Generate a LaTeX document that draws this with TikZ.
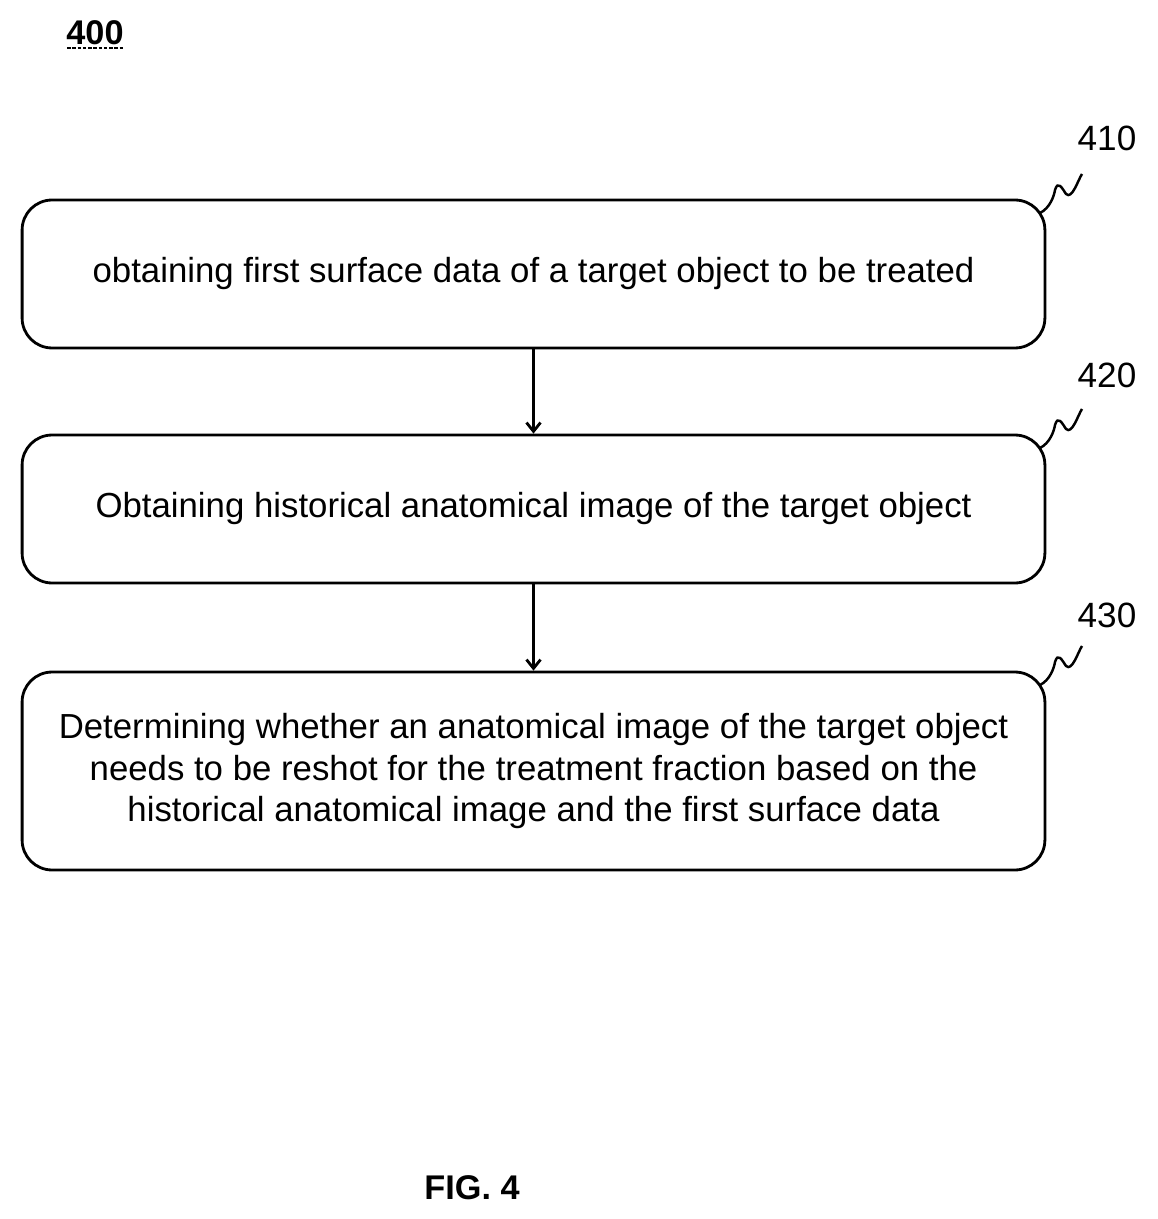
\documentclass[tikz,border=0pt]{standalone}
\usepackage{fontspec}
\setmainfont{Liberation Sans}
\usetikzlibrary{arrows.meta}
\begin{document}
\begin{tikzpicture}[x=0.02cm,y=-0.02cm,
  box/.style={draw,line width=1.6pt,rounded corners=0.6cm,minimum width=20.46cm,align=center,font=\fontsize{19.8}{23.8}\selectfont},
  lbl/.style={font=\fontsize{20}{24}\selectfont},
  arr/.style={line width=1.6pt,-{Straight Barb[length=5pt,width=8pt]}},
  sq/.style={line width=1.4pt}]
\useasboundingbox (0,0) rectangle (1157,1219);
\node[font=\bfseries\fontsize{19.5}{22}\selectfont] (t400) at (95,33) {400};
\draw[dashed,line width=0.8pt,dash pattern=on 2pt off 1pt] (67,48) -- (123,48);
\node[box,minimum height=2.96cm] (b1) at (533.5,274) {obtaining first surface data of a target object to be treated};
\node[box,minimum height=2.96cm] (b2) at (533.5,509) {Obtaining historical anatomical image of the target object};
\node[box,minimum height=3.96cm] (b3) at (533.5,771) {Determining whether an anatomical image of the target object\\needs to be reshot for the treatment fraction based on the\\historical anatomical image and the first surface data};
\draw[arr] (b1.south) -- (b2.north);
\draw[arr] (b2.south) -- (b3.north);
\node[lbl] (l1) at (1107,138) {410};
\node[lbl] (l2) at (1107,375) {420};
\node[lbl] (l3) at (1107,615) {430};
\foreach \b/\y in {b1/200,b2/435,b3/672}{
  \draw[sq] (1040,\y+13) .. controls (1050,\y+8) and (1054,\y-4) .. (1055,\y-10)
    .. controls (1058,\y-20) and (1062,\y-12) .. (1066,\y-6)
    .. controls (1072,\y) and (1078,\y-20) .. (1082,\y-26);
}
\node[font=\bfseries\fontsize{19.5}{22}\selectfont] (fig) at (472,1188) {FIG. 4};
\end{tikzpicture}
\end{document}
